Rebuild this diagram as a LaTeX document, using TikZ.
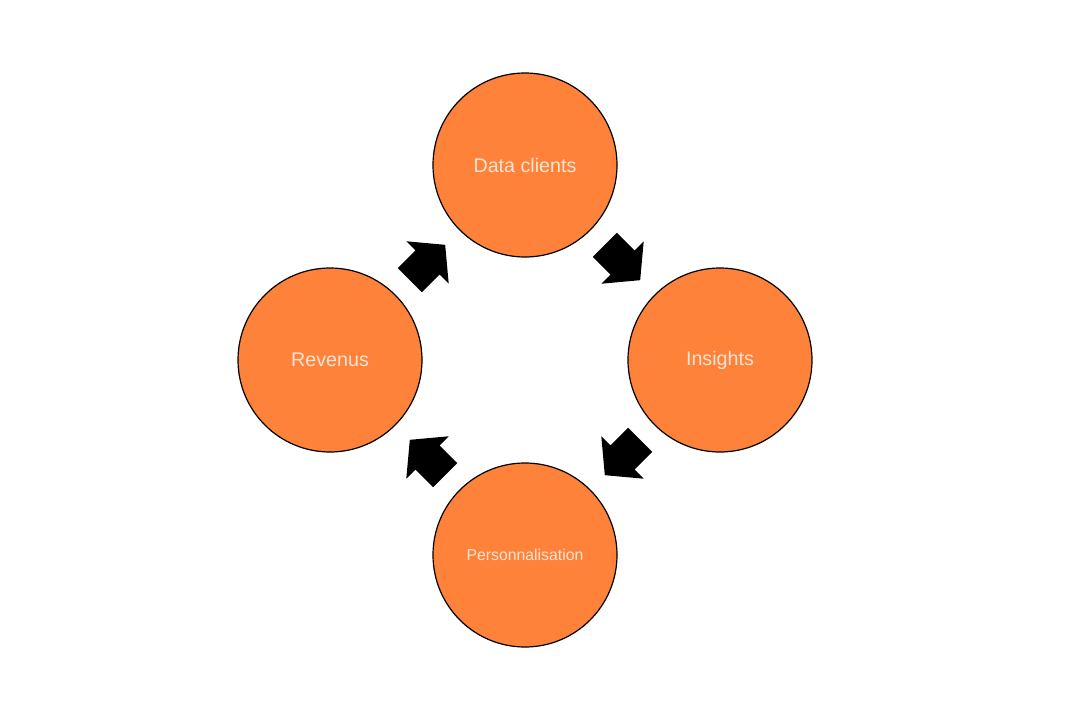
\documentclass[tikz,border=0pt]{standalone}
\usepackage{fontspec}
\setmainfont{Liberation Sans}
\usetikzlibrary{calc}
\definecolor{circfill}{RGB}{254,130,58}
\definecolor{circtext}{RGB}{252,228,210}
\tikzset{
  stage/.style={circle, draw=black, line width=1.2pt, fill=circfill, minimum size=184pt, inner sep=0pt, text=circtext, font=\fontsize{19.7}{23}\selectfont},
  smalltext/.style={font=\fontsize{15.8}{19}\selectfont},
  blockarrow/.pic={\fill[black] (-25,17) -- (0,17) -- (0,30) -- (25,0) -- (0,-30) -- (0,-17) -- (-25,-17) -- cycle;}
}
\begin{document}
\begin{tikzpicture}[x=1pt,y=-1pt]
\useasboundingbox (0,0) rectangle (1080,720);
\node[stage] (dc) at (525,165) {Data clients};
\node[stage] (ins) at (720,360) {Insights};
\node[stage, smalltext] (pers) at (525,555) {Personnalisation};
\node[stage] (rev) at (330,360) {Revenus};
\pic[rotate=-45] at ($(dc)!0.5!(ins)$) {blockarrow};
\pic[rotate=-135] at ($(ins)!0.5!(pers)$) {blockarrow};
\pic[rotate=135] at ($(pers)!0.5!(rev)$) {blockarrow};
\pic[rotate=45] at ($(rev)!0.5!(dc)$) {blockarrow};
\end{tikzpicture}
\end{document}
